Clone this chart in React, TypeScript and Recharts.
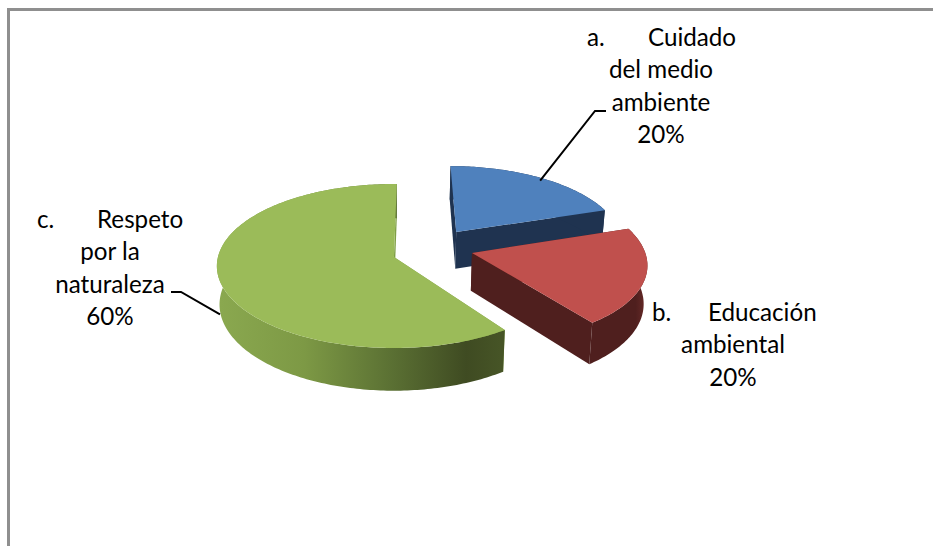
import React from "react";
import { PieChart, Pie } from "recharts";

const markers = ["a.", "b.", "c."];
const firstWords = ["Cuidado", "Educación", "Respeto"];
const extraLines = [["del medio", "ambiente"], ["ambiental"], ["por la", "naturaleza"]];
const values = [20, 20, 60];
const tableRows = values.map((value, i) => ({ name: firstWords[i], value }));

const W = 933;
const H = 546;
const CX = 395;
const CY = 257;
const R = 176;
const TILT = 81 / 176;
const PERSP = 0.11;
const DEPTH = 38;
const BOTTOM_SHRINK = 0.985;
const FONT = "Lato, Carlito, sans-serif";
const FONT_SIZE = 24.2;

// placement of each slice: explosion offset in radius units (u right, v towards viewer),
// a relative size and a small rotation in degrees
const explode = [
  { u: 0.36, v: -0.32, size: 0.96, turn: 1 },
  { u: 0.44, v: -0.05, size: 0.99, turn: 1.5 },
  { u: -0.006, v: 0, size: 1, turn: 0 },
];
const topColors = ["#4f81bd", "#c0504d", "#9bbb59"];
const radialColors = ["#1f3350", "#4f1f1e", "#7f9f45"];
const wallFills = ["#1f3350", "url(#wallRed)", "url(#wallGreen)"];

const labelLayout = [
  { markerX: 587, wordX: 648, centerX: 661, baseY: 46, leader: [[595, 111], [606, 111]], leaderDy: 3 },
  { markerX: 652, wordX: 708, centerX: 733, baseY: 321, leader: null, leaderDy: 0 },
  { markerX: 37, wordX: 97, centerX: 110, baseY: 228, leader: [[181, 292], [171, 292]], leaderDy: 33 },
];
const LINE_H = 32.4;

type Pt = { x: number; y: number; w: number };

function project(cx: number, cy: number, r: number, u: number, v: number): Pt {
  const w = 1 / (1 - PERSP * v);
  return { x: cx + r * u * w, y: cy + r * TILT * v * w, w };
}
function slicePoint(cx: number, cy: number, r: number, idx: number, deg: number, rad = 1): Pt {
  const e = explode[idx];
  const a = ((deg + e.turn) * Math.PI) / 180;
  return project(cx, cy, r, e.u + e.size * rad * Math.cos(a), e.v - e.size * rad * Math.sin(a));
}
function lower(p: Pt, cx: number): [number, number] {
  return [cx + (p.x - cx) * BOTTOM_SHRINK, p.y + DEPTH * p.w];
}
const toPath = (pts: [number, number][]) =>
  pts.map((p, i) => `${i ? "L" : "M"}${p[0].toFixed(2)},${p[1].toFixed(2)}`).join("") + "Z";

function Slice3D(props: any) {
  const { cx, cy, outerRadius, startAngle, endAngle, index } = props;
  const arc: Pt[] = [];
  const steps = Math.max(2, Math.ceil(Math.abs(endAngle - startAngle)));
  for (let i = 0; i <= steps; i++) {
    arc.push(slicePoint(cx, cy, outerRadius, index, startAngle + ((endAngle - startAngle) * i) / steps));
  }
  const apex = slicePoint(cx, cy, outerRadius, index, 0, 0);
  const first = arc[0];
  const last = arc[arc.length - 1];
  const wall = toPath([
    ...arc.map((p) => [p.x, p.y] as [number, number]),
    ...arc.slice().reverse().map((p) => lower(p, cx)),
  ]);
  const radial = (p: Pt) =>
    toPath([[p.x, p.y], [apex.x, apex.y], lower(apex, cx), lower(p, cx)]);
  const top = toPath([[apex.x, apex.y], ...arc.map((p) => [p.x, p.y] as [number, number])]);
  return (
    <g>
      <defs>
        <linearGradient id="wallGreen" gradientUnits="userSpaceOnUse" x1={220} x2={500} y1={0} y2={0}>
          <stop offset="0" stopColor="#8aa84f" />
          <stop offset="0.3" stopColor="#7d9945" />
          <stop offset="0.6" stopColor="#5c7234" />
          <stop offset="0.88" stopColor="#3f4b22" />
          <stop offset="1" stopColor="#465426" />
        </linearGradient>
        <linearGradient id="wallRed" gradientUnits="userSpaceOnUse" x1={590} x2={647} y1={0} y2={0}>
          <stop offset="0" stopColor="#4f1f1e" />
          <stop offset="0.8" stopColor="#4f1f1e" />
          <stop offset="1" stopColor="#6a2b29" />
        </linearGradient>
      </defs>
      <path d={radial(first)} fill={radialColors[index]} />
      <path d={radial(last)} fill={radialColors[index]} />
      <path d={wall} fill={wallFills[index]} />
      <path d={top} fill={topColors[index]} />
    </g>
  );
}

function SliceLabel(props: any) {
  const { cx, cy, outerRadius, midAngle, index, percent } = props;
  const layout = labelLayout[index];
  const textProps = { fontFamily: FONT, fontSize: FONT_SIZE, fill: "#000" };
  const centered = [...extraLines[index], `${Math.round(percent * 100)}%`];
  let leader = null;
  if (layout.leader) {
    const s = slicePoint(cx, cy, outerRadius, index, midAngle);
    const pts = [[s.x, s.y + layout.leaderDy], ...layout.leader].map((p) => p.join(",")).join(" ");
    leader = <polyline points={pts} fill="none" stroke="#000" strokeWidth={2} />;
  }
  return (
    <g>
      {leader}
      <text x={layout.markerX} y={layout.baseY} {...textProps}>{markers[index]}</text>
      <text x={layout.wordX} y={layout.baseY} {...textProps}>{firstWords[index]}</text>
      {centered.map((line, i) => (
        <text key={line} x={layout.centerX} y={layout.baseY + LINE_H * (i + 1)} textAnchor="middle" {...textProps}>
          {line}
        </text>
      ))}
    </g>
  );
}

export default function App() {
  return (
    <div style={{ position: "absolute", left: 0, top: 0, width: W, height: H, background: "#fff", overflow: "hidden" }}>
      <div
        style={{
          position: "absolute",
          left: 7,
          top: 8,
          width: W,
          height: H,
          borderTop: "3px solid #8f8f8f",
          borderLeft: "3px solid #8f8f8f",
        }}
      />
      <div style={{ position: "absolute", left: 0, top: 0 }}>
        <PieChart width={W} height={H} margin={{ top: 0, right: 0, bottom: 0, left: 0 }}>
          <Pie
            data={tableRows}
            dataKey="value"
            nameKey="name"
            cx={CX}
            cy={CY}
            innerRadius={0}
            outerRadius={R}
            startAngle={89}
            endAngle={-271}
            stroke="none"
            isAnimationActive={false}
            shape={Slice3D}
            label={SliceLabel}
            labelLine={false}
            rootTabIndex={-1}
          />
        </PieChart>
      </div>
    </div>
  );
}
